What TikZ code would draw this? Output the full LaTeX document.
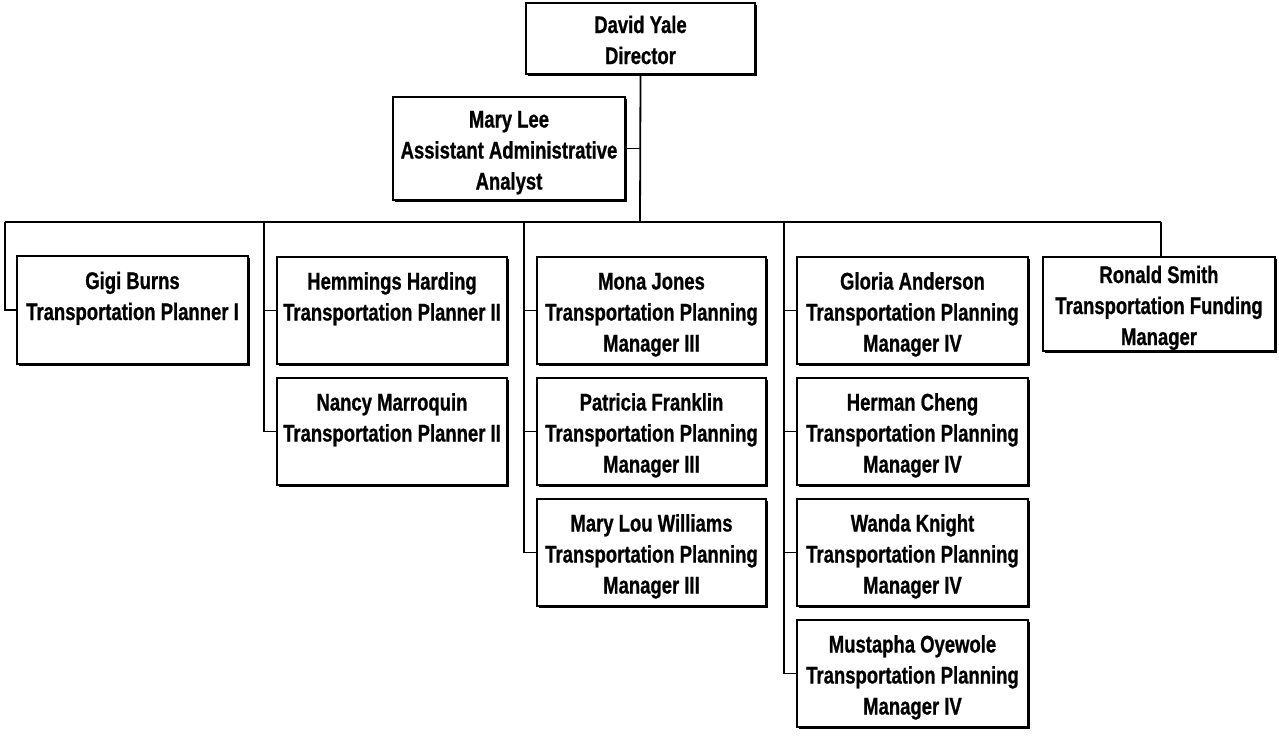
\documentclass[tikz,border=0pt]{standalone}
\usepackage{fontspec}
\newfontfamily\boxfont{Liberation Sans}[FakeStretch=0.77,FakeBold=0.8]
\usetikzlibrary{shadows}
\newcommand{\boxthree}[3]{\rule{0pt}{26pt}#1\\#2\\#3\rule[-6pt]{0pt}{6pt}}
\newcommand{\boxtwo}[2]{\rule{0pt}{26pt}#1\\#2\rule[-6pt]{0pt}{6pt}}
\begin{document}
\begin{tikzpicture}[x=1pt,y=-1pt,
  person/.style={draw, line width=2.2pt, fill=white, align=center, inner sep=0pt,
    font=\boxfont\bfseries\fontsize{24}{31}\selectfont,
    drop shadow={shadow xshift=2.2pt, shadow yshift=-2.2pt, fill=black, opacity=1}},
  wbox/.style={minimum width=229pt, minimum height=107pt},
  link/.style={line width=1.8pt}]
\useasboundingbox (0,0) rectangle (1279,736);
% top
\node[person, minimum width=229pt, minimum height=71pt] (dy) at (640.5,38.5) {\boxtwo{David Yale}{Director}};
\node[person, minimum width=232pt, minimum height=103pt] (ml) at (509,148.5) {\boxthree{Mary Lee}{Assistant Administrative}{Analyst}};
% column 1
\node[person, minimum width=231pt, minimum height=108pt] (gb) at (132.5,310) {\boxthree{Gigi Burns}{Transportation Planner I}{}};
% column 2
\node[person, wbox, minimum width=230pt] (hh) at (392,310.5) {\boxthree{Hemmings Harding}{Transportation Planner II}{}};
\node[person, wbox, minimum width=230pt] (nm) at (392,431.5) {\boxthree{Nancy Marroquin}{Transportation Planner II}{}};
% column 3
\node[person, wbox] (mj) at (651.5,310.5) {\boxthree{Mona Jones}{Transportation Planning}{Manager III}};
\node[person, wbox] (pf) at (651.5,431.5) {\boxthree{Patricia Franklin}{Transportation Planning}{Manager III}};
\node[person, wbox] (mw) at (651.5,552.5) {\boxthree{Mary Lou Williams}{Transportation Planning}{Manager III}};
% column 4
\node[person, wbox, minimum width=231pt] (ga) at (912.5,310.5) {\boxthree{Gloria Anderson}{Transportation Planning}{Manager IV}};
\node[person, wbox, minimum width=231pt] (hc) at (912.5,431.5) {\boxthree{Herman Cheng}{Transportation Planning}{Manager IV}};
\node[person, wbox, minimum width=231pt] (wk) at (912.5,552.5) {\boxthree{Wanda Knight}{Transportation Planning}{Manager IV}};
\node[person, wbox, minimum width=231pt] (mo) at (912.5,673.5) {\boxthree{Mustapha Oyewole}{Transportation Planning}{Manager IV}};
% column 5
\node[person, minimum width=232pt, minimum height=94pt] (rs) at (1159,304) {\boxthree{Ronald Smith}{Transportation Funding}{Manager}};
% connectors
\coordinate (hub) at (640,222);
\coordinate (lft) at (5,222);
\coordinate (rgt) at (1161,222);
\coordinate (c2) at (264,222);
\coordinate (c3) at (524,222);
\coordinate (c4) at (784,222);
\draw[link] (dy.south) -- (hub);
\draw[link] (ml.east) -- (ml.east -| hub);
\draw[link] (lft) -- (rgt);
\draw[link] (lft) |- (gb.west);
\draw[link] (rgt) -- (rgt |- rs.north);
\draw[link] (c2) |- (nm.west);
\draw[link] (hh.west -| c2) -- (hh.west);
\draw[link] (c3) |- (mw.west);
\draw[link] (mj.west -| c3) -- (mj.west);
\draw[link] (pf.west -| c3) -- (pf.west);
\draw[link] (c4) |- (mo.west);
\draw[link] (ga.west -| c4) -- (ga.west);
\draw[link] (hc.west -| c4) -- (hc.west);
\draw[link] (wk.west -| c4) -- (wk.west);
\end{tikzpicture}
\end{document}
